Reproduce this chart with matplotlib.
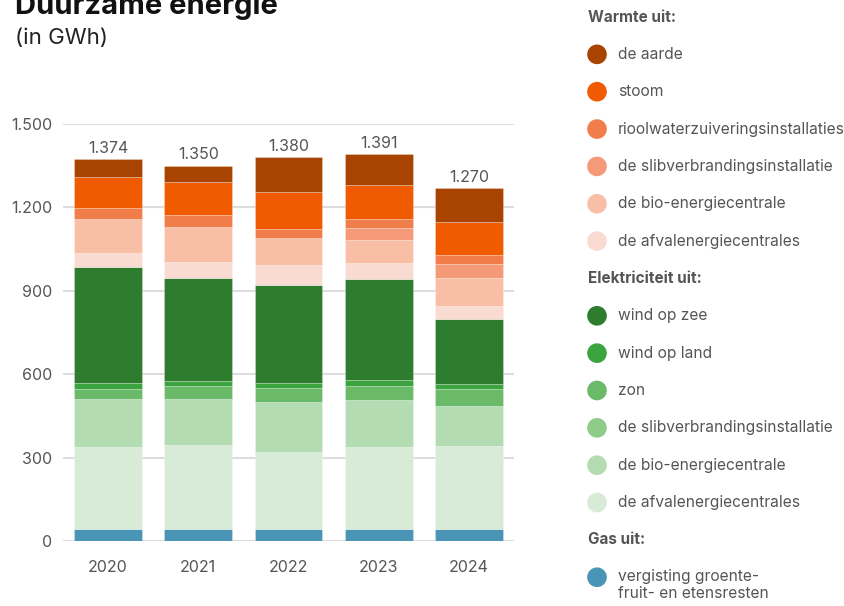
import numpy as np
import matplotlib
matplotlib.use("Agg")
import matplotlib.pyplot as plt

plt.rcParams['font.family'] = ['Inter', 'DejaVu Sans']

# data (GWh)
years = ['2020', '2021', '2022', '2023', '2024']

gas_vergisting = [42, 44, 42, 42, 42]
elek_afval = [297, 301, 279, 295, 301]
elek_bio = [171, 166, 178, 170, 143]
elek_slib = [0, 0, 0, 0, 0]
elek_zon = [38, 48, 52, 52, 61]
elek_wind_land = [21, 16, 18, 19, 17]
elek_wind_zee = [418, 370, 353, 366, 235]
warmte_afval = [48, 60, 71, 57, 47]
warmte_bio = [122, 126, 96, 81, 100]
warmte_slib = [0, 0, 0, 43, 50]
warmte_riool = [42, 43, 33, 33, 32]
warmte_stoom = [109, 117, 132, 123, 118]
warmte_aarde = [66, 59, 126, 110, 124]

totals = [1374, 1350, 1380, 1391, 1270]

# stacking order, bottom to top
series = [
    (gas_vergisting, '#4a95b5'),
    (elek_afval, '#d8ebd7'),
    (elek_bio, '#b3dcb2'),
    (elek_slib, '#8fcc8a'),
    (elek_zon, '#6aba6a'),
    (elek_wind_land, '#3ba43f'),
    (elek_wind_zee, '#2e7d2e'),
    (warmte_afval, '#fadbd1'),
    (warmte_bio, '#f9bea6'),
    (warmte_slib, '#f49a78'),
    (warmte_riool, '#f07d4a'),
    (warmte_stoom, '#f05a00'),
    (warmte_aarde, '#a84300'),
]

grey = '#555555'

fig = plt.figure(figsize=(8.45, 6.06), dpi=100)
ax = fig.add_axes([63/845, 65/606, 451/845, 417/606])

x = np.arange(len(years))
bottom = np.zeros(len(years))
for vals, col in series:
    vals = np.array(vals, dtype=float)
    ax.bar(x, vals, 0.75, bottom=bottom, color=col,
           edgecolor=(1, 1, 1, 0.3), linewidth=0.6, zorder=3)
    bottom += vals

for xi, tot in zip(x, totals):
    lab = f'{tot:,}'.replace(',', '.')
    ax.text(xi, tot + 12, lab, ha='center', va='bottom', fontsize=11.5, color=grey)

ax.set_xlim(-0.5, 4.5)
ax.set_ylim(0, 1500)
yt = [0, 300, 600, 900, 1200, 1500]
ax.set_yticks(yt)
ax.set_yticklabels([f'{v:,}'.replace(',', '.') for v in yt])
ax.set_xticks(x)
ax.set_xticklabels(years)
ax.tick_params(axis='both', length=0, labelsize=11.5, labelcolor=grey)
ax.tick_params(axis='y', pad=8)
ax.tick_params(axis='x', pad=14)
ax.grid(axis='y', color='#dddddd', linewidth=1.5, zorder=0)
for s in ax.spines.values():
    s.set_visible(False)

# title (partly above the top edge, as in the source)
fig.text(15/845, 1 - 14/606, 'Duurzame energie', fontsize=21, fontweight='bold',
         color='#111111', va='baseline', ha='left')
fig.text(15/845, 1 - 44/606, '(in GWh)', fontsize=16, color='#222222',
         va='baseline', ha='left')

# legend
lax = fig.add_axes([0, 0, 1, 1])
lax.set_xlim(0, 845)
lax.set_ylim(606, 0)
lax.axis('off')

legend_rows = [
    ('Warmte uit:', None),
    ('de aarde', '#a84300'),
    ('stoom', '#f05a00'),
    ('rioolwaterzuiveringsinstallaties', '#f07d4a'),
    ('de slibverbrandingsinstallatie', '#f49a78'),
    ('de bio-energiecentrale', '#f9bea6'),
    ('de afvalenergiecentrales', '#fadbd1'),
    ('Elektriciteit uit:', None),
    ('wind op zee', '#2e7d2e'),
    ('wind op land', '#3ba43f'),
    ('zon', '#6aba6a'),
    ('de slibverbrandingsinstallatie', '#8fcc8a'),
    ('de bio-energiecentrale', '#b3dcb2'),
    ('de afvalenergiecentrales', '#d8ebd7'),
    ('Gas uit:', None),
    ('vergisting groente-\nfruit- en etensresten', '#4a95b5'),
]
step = 37.35
for i, (txt, col) in enumerate(legend_rows):
    yy = 17 + i * step
    if col is None:
        lax.text(588, yy, txt, fontsize=11, fontweight='bold', color=grey,
                 va='center', ha='left')
    else:
        lax.scatter([597], [yy], s=200, color=col, edgecolors='none')
        if '\n' in txt:
            lax.text(618, yy - 8, txt, fontsize=11.2, color=grey, va='top',
                     ha='left', linespacing=1.15)
        else:
            lax.text(618, yy, txt, fontsize=11.2, color=grey, va='center', ha='left')

fig.savefig('out.png', dpi=100)
